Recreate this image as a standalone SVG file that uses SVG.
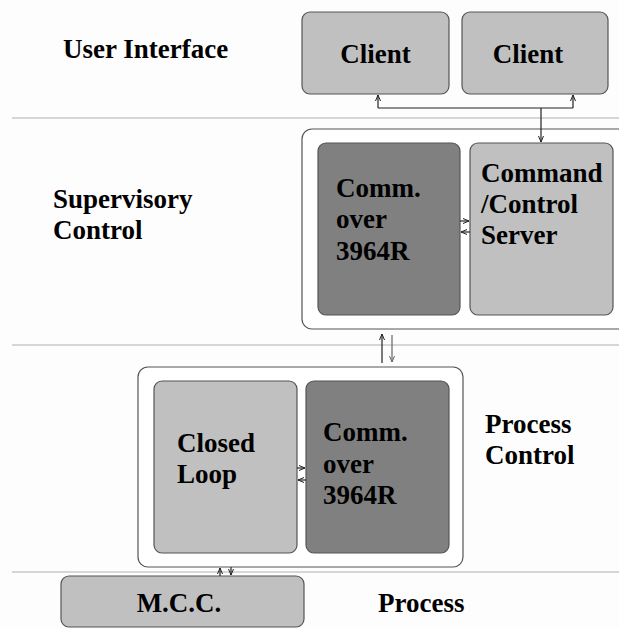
<svg xmlns="http://www.w3.org/2000/svg" width="619" height="629" viewBox="0 0 619 629">
<style>
.light{fill:#c0c0c0;stroke:#555;stroke-width:1.2}
.dark{fill:#808080;stroke:#555;stroke-width:1.2}
.outer{fill:#fff;stroke:#555;stroke-width:1.2}
.sep{stroke:#c8c8c8;stroke-width:1.5}
.con{fill:none;stroke:#222;stroke-width:1.2}
</style>
<defs>
<marker id="ah" viewBox="0 0 6 6" refX="6" refY="3" markerWidth="6" markerHeight="6" markerUnits="userSpaceOnUse" orient="auto">
<path d="M0,0.5 L6,3 L0,5.5" fill="none" stroke="#222" stroke-width="1"/>
</marker>
<marker id="ahg" viewBox="0 0 6 6" refX="6" refY="3" markerWidth="6" markerHeight="6" markerUnits="userSpaceOnUse" orient="auto">
<path d="M0,0.5 L6,3 L0,5.5" fill="none" stroke="#666" stroke-width="1"/>
</marker>
</defs>
<rect width="619" height="629" fill="#fdfdfd"/>
<g id="separators">
<line class="sep" x1="12" y1="118" x2="619" y2="118"/>
<line class="sep" x1="12" y1="345" x2="619" y2="345"/>
<line class="sep" x1="12" y1="572" x2="619" y2="572"/>
</g>
<g font-family="Liberation Serif, Times New Roman, serif" font-weight="bold" font-size="27" fill="#000">
<g id="layer-labels">
<text x="63" y="58">User Interface</text>
<text x="53" y="208">Supervisory</text>
<text x="53" y="239">Control</text>
<text x="485" y="433">Process</text>
<text x="485" y="464">Control</text>
<text x="378" y="612">Process</text>
</g>
<g id="client1"><rect class="light" x="302" y="12" width="147" height="82" rx="8"/><text x="375.5" y="63" text-anchor="middle">Client</text></g>
<g id="client2"><rect class="light" x="462" y="12" width="146" height="82" rx="8"/><text x="528" y="63" text-anchor="middle">Client</text></g>
<g id="supervisory-box"><rect class="outer" x="302" y="129" width="330" height="200" rx="10"/></g>
<g id="sup-comm"><rect class="dark" x="318" y="143" width="142" height="172" rx="8"/>
<text x="336" y="197">Comm.</text><text x="336" y="228">over</text><text x="336" y="260">3964R</text></g>
<g id="server"><rect class="light" x="470" y="143" width="143" height="172" rx="8"/>
<text x="481" y="182">Command</text><text x="481" y="213">/Control</text><text x="481" y="244">Server</text></g>
<g id="process-box"><rect class="outer" x="138" y="367" width="325" height="200" rx="10"/></g>
<g id="closed-loop"><rect class="light" x="154" y="381" width="143" height="172" rx="8"/>
<text x="177" y="452">Closed</text><text x="177" y="483">Loop</text></g>
<g id="proc-comm"><rect class="dark" x="306" y="381" width="143" height="172" rx="8"/>
<text x="323" y="441">Comm.</text><text x="323" y="473">over</text><text x="323" y="504">3964R</text></g>
<g id="mcc"><rect class="light" x="61" y="576" width="243" height="51" rx="8"/><text x="179" y="612" text-anchor="middle">M.C.C.</text></g>
</g>
<g id="connectors">
<path class="con" d="M378,108 H573"/>
<path class="con" d="M378,108 V95" marker-end="url(#ah)"/>
<path class="con" d="M573,108 V95" marker-end="url(#ah)"/>
<path class="con" d="M541,108 V142" marker-end="url(#ah)"/>
<path class="con" d="M460,221 H469" marker-end="url(#ah)"/>
<path class="con" d="M470,232 H461" marker-end="url(#ah)"/>
<path class="con" d="M382,363 V334" marker-end="url(#ah)"/>
<path class="con" d="M392,335 V362" style="stroke:#666" marker-end="url(#ahg)"/>
<path class="con" d="M297,468 H305" marker-end="url(#ah)"/>
<path class="con" d="M306,480 H298" marker-end="url(#ah)"/>
<path class="con" d="M220,576 V568" marker-end="url(#ah)"/>
<path class="con" d="M231,567 V575" marker-end="url(#ah)"/>
</g>
</svg>
